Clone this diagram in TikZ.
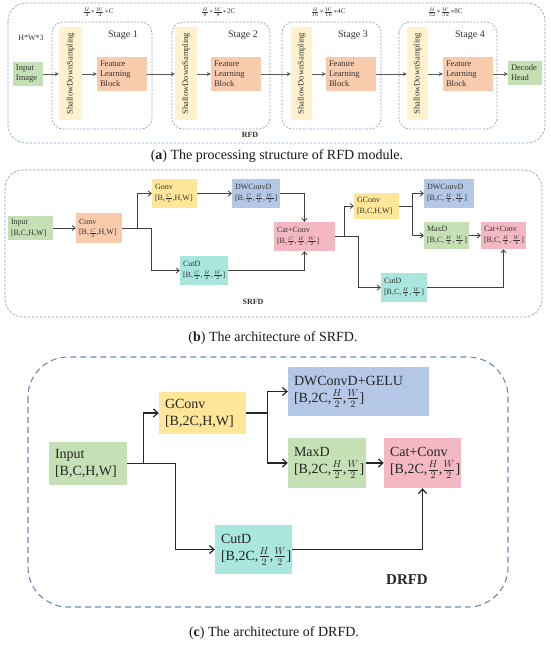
\documentclass[tikz,border=0pt]{standalone}
\usepackage{fontspec}
\setmainfont{Liberation Serif}
\usetikzlibrary{arrows.meta}
\definecolor{cgreen}{HTML}{C5E0B4}
\definecolor{corange}{HTML}{F8CBAD}
\definecolor{cyellow}{HTML}{FFE699}
\definecolor{cblue}{HTML}{B4C7E7}
\definecolor{cpink}{HTML}{F4B8C2}
\definecolor{ccyan}{HTML}{A8E6DE}
\definecolor{cbar}{HTML}{FFF2CC}
\definecolor{dashA}{HTML}{8FA2C6}
\definecolor{dashC}{HTML}{6A88BD}
\definecolor{txt}{HTML}{333333}
\newcommand{\sfr}[2]{${\scriptstyle\frac{#1}{#2}}$}
\tikzset{
  bxa/.style={rectangle, inner xsep=3pt, inner ysep=0pt, align=left, text=txt,
     font=\fontsize{8.5}{10}\selectfont},
  bxb/.style={rectangle, inner xsep=3pt, inner ysep=0pt, align=left, text=txt,
     font=\fontsize{8}{10.5}\selectfont},
  bxc/.style={rectangle, inner xsep=6pt, inner ysep=0pt, align=left, text=black!85,
     font=\fontsize{14}{17}\selectfont},
  bar/.style={rectangle, fill=cbar, rotate=90, inner sep=0pt, text=txt,
     font=\fontsize{8.5}{10}\selectfont},
  stagebox/.style={draw=dashA, dashed, dash pattern=on 2pt off 1.5pt, line width=0.7pt, rounded corners=11pt},
  outerA/.style={draw=dashA, dash pattern=on 2.5pt off 1.5pt, line width=0.7pt, rounded corners=18pt},
  outerC/.style={draw=dashC, dash pattern=on 6pt off 4pt, line width=1.1pt, rounded corners=40pt},
  arA/.style={draw=black!65, line width=0.9pt, -{Stealth[length=4pt,width=4pt]}},
  arB/.style={draw=black!75, line width=0.8pt, -{Straight Barb[length=3pt,width=5pt]}},
  arC/.style={draw=black!85, line width=1.2pt, -{Straight Barb[length=4.5pt,width=8pt]}},
  captext/.style={font=\fontsize{14}{16}\selectfont, text=black!90},
  lab/.style={text=txt},
}
\begin{document}
\begin{tikzpicture}[x=1pt,y=-1pt]
\useasboundingbox (0,0) rectangle (550,646);
% ---------------- (a) ----------------
\draw[outerA] (8,3) rectangle (545,143);
\draw[stagebox] (52,22) rectangle (152,129);
\draw[stagebox] (172,22) rectangle (270,129);
\draw[stagebox] (282,22) rectangle (381,129);
\draw[stagebox] (399,22) rectangle (497,129);
\node[lab, font=\fontsize{8}{9}\selectfont] (hw3) at (31,38) {H*W*3};
\node[bxa, fill=cgreen, minimum height=24pt, text width=24pt] (inimg) at (28,74) {Input\\Image};
\foreach \i/\L/\bl/\br/\fl/\fr/\dimlab in {1/52/59/82/97/147/{$\scriptstyle\frac{H}{4}{*}\frac{W}{4}{*}\mathrm{C}$},
    2/172/175/197/211/261/{$\scriptstyle\frac{H}{8}{*}\frac{W}{8}{*}\mathrm{2C}$},
    3/282/291/312/326/376/{$\scriptstyle\frac{H}{16}{*}\frac{W}{16}{*}\mathrm{4C}$},
    4/399/407/428/443/493/{$\scriptstyle\frac{H}{32}{*}\frac{W}{32}{*}\mathrm{8C}$}} {
  \node[bar, minimum width=93pt, minimum height={\br-\bl}] (sds\i) at ({(\bl+\br)/2},73.5) {ShallowDownSampling};
  \node[bxa, fill=corange, minimum height=34pt, text width={\fr-\fl-6}] (flb\i) at ({(\fl+\fr)/2},74) {Feature\\Learning\\Block};
  \node[lab, font=\fontsize{10}{12}\selectfont] (st\i) at ({\L+71},35) {Stage \i};
  \node[lab, font=\fontsize{10}{12}\selectfont] (dim\i) at ({\L+46},12) {\dimlab};
  \draw[arA] (sds\i.south |- flb\i.west) -- (flb\i.west);
}
\node[bxa, fill=cgreen, minimum height=24pt, text width=28pt] (dec) at (525,73) {Decode\\Head};
\node[lab, font=\bfseries\fontsize{8}{9}\selectfont] (rfd) at (250,135) {RFD};
\draw[arA] (inimg.east) -- (sds1.north |- inimg.east);
\draw[arA] (flb1.east) -- (sds2.north |- flb1.east);
\draw[arA] (flb2.east) -- (sds3.north |- flb2.east);
\draw[arA] (flb3.east) -- (sds4.north |- flb3.east);
\draw[arA] (flb4.east) -- (dec.west |- flb4.east);
\node[captext] (capa) at (277,156) {(\textbf{a}) The processing structure of RFD module.};
% ---------------- (b) ----------------
\draw[outerA] (5,170) rectangle (542,317);
\node[bxb, fill=cgreen, minimum height=24pt, text width=39pt] (bin) at (30.5,228) {Input\\{[}B,C,H,W]};
\node[bxb, fill=corange, minimum height=30pt, text width=40pt] (bconv) at (99,228) {Conv\\{[}B,\sfr{C}{4},H,W]};
\node[bxb, fill=cyellow, minimum height=29pt, text width=39pt] (bgonv) at (174.5,193.5) {Gonv\\{[}B,\sfr{C}{2},H,W]};
\node[bxb, fill=cblue, minimum height=29pt, text width=42pt] (bdw) at (256,193.5) {DWConvD\\{[}B,\sfr{C}{2},\sfr{H}{2},\sfr{W}{2}]};
\node[bxb, fill=ccyan, minimum height=29pt, text width=42pt] (bcut) at (204,270.5) {CutD\\{[}B,\sfr{C}{2},\sfr{H}{2},\sfr{W}{2}]};
\node[bxb, fill=cpink, minimum height=29pt, text width=55pt] (bcat) at (304.5,236.5) {Cat+Conv\\{[}B,\sfr{C}{2},\sfr{H}{2},\sfr{W}{2}]};
\node[bxb, fill=cyellow, minimum height=26pt, text width=39pt] (bg2) at (376.5,206) {GConv\\{[}B,C,H,W]};
\node[bxb, fill=cblue, minimum height=29pt, text width=44pt] (bdw2) at (449,193.5) {DWConvD\\{[}B,C,\sfr{H}{4},\sfr{W}{4}]};
\node[bxb, fill=cgreen, minimum height=27pt, text width=39pt] (bmax) at (446.5,235.5) {MaxD\\{[}B,C,\sfr{H}{4},\sfr{W}{4}]};
\node[bxb, fill=cpink, minimum height=27pt, text width=39pt] (bcat2) at (503.5,235.5) {Cat+Conv\\{[}B,C,\sfr{H}{4},\sfr{W}{4}]};
\node[bxb, fill=ccyan, minimum height=29pt, text width=40pt] (bcut2) at (404,287.5) {CutD\\{[}B,C,\sfr{H}{4},\sfr{W}{4}]};
\node[lab, font=\bfseries\fontsize{8}{9}\selectfont] (srfd) at (253,302) {SRFD};
\draw[arB] (bin.east) -- (bconv.west);
\draw[arB] (bconv.east) -- ++(15,0) |- (bgonv.west);
\draw[arB] (bconv.east) -- ++(29,0) |- (bcut.west);
\draw[arB] (bgonv.east) -- (bdw.west);
\draw[arB] (bdw.east) -| (bcat.north);
\draw[arB] (bcut.east) -| (bcat.south);
\draw[arB] (bcat.east) -- ++(9,0) |- (bg2.west);
\draw[arB] (bcat.east) -- ++(23,0) |- (bcut2.west);
\draw[arB] (bg2.east) -- ++(13,0) |- (bdw2.west);
\draw[arB] (bg2.east) -- ++(13,0) |- (bmax.west);
\draw[arB] (bmax.east) -- (bcat2.west);
\draw[arB] (bcut2.east) -| (bcat2.south);
\node[captext] (capb) at (273,338) {(\textbf{b}) The architecture of SRFD.};
% ---------------- (c) ----------------
\draw[outerC] (28,357) rectangle (508,607);
\node[bxc, fill=cgreen, minimum height=43pt, text width=66pt] (cin) at (88,463.5) {Input\\{[}B,C,H,W]};
\node[bxc, fill=cyellow, minimum height=42pt, text width=75pt] (cg) at (202.5,413) {GConv\\{[}B,2C,H,W]};
\node[bxc, fill=cblue, minimum height=49pt, text width=129pt] (cdw) at (358.5,391.5) {DWConvD+GELU\\{[}B,2C,$\frac{H}{2}$,$\frac{W}{2}$]};
\node[bxc, fill=cgreen, minimum height=50pt, text width=66pt] (cmax) at (327,463) {MaxD\\{[}B,2C,$\frac{H}{2}$,$\frac{W}{2}$]};
\node[bxc, fill=cpink, minimum height=50pt, text width=65pt] (ccat) at (422.5,463) {Cat+Conv\\{[}B,2C,$\frac{H}{2}$,$\frac{W}{2}$]};
\node[bxc, fill=ccyan, minimum height=49pt, text width=65pt] (ccut) at (253.5,549.5) {CutD\\{[}B,2C,$\frac{H}{2}$,$\frac{W}{2}$]};
\node[lab, text=black!85, font=\bfseries\fontsize{15}{17}\selectfont] (drfd) at (407,580) {DRFD};
\draw[arC] (cin.east) -- ++(16,0) |- (cg.west);
\draw[arC] (cin.east) -- ++(48,0) |- (ccut.west);
\draw[arC] (cg.east) -- ++(21,0) |- (cdw.west);
\draw[arC] (cg.east) -- ++(21,0) |- (cmax.west);
\draw[arC] (cmax.east) -- (ccat.west);
\draw[arC] (ccut.east) -| (ccat.south);
\node[captext] (capc) at (274,633) {(\textbf{c}) The architecture of DRFD.};
\end{tikzpicture}
\end{document}
